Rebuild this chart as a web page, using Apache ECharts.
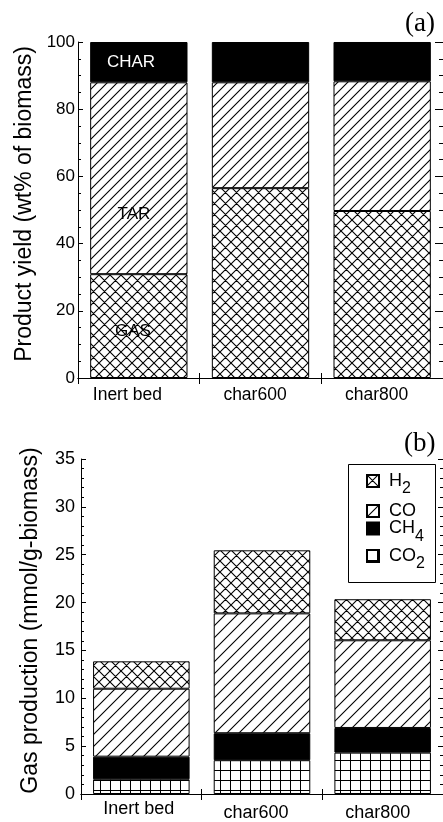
<!DOCTYPE html>
<html><head><meta charset="utf-8">
<script src="https://cdn.jsdelivr.net/npm/echarts@6/dist/echarts.min.js"></script>
<style>html,body{margin:0;padding:0;background:#fff}#c{width:443px;height:822px}</style>
</head><body><div id="c"></div>
<script>
// ---- data ----
const categories = ['Inert bed', 'char600', 'char800'];
const gasYield = [30.9, 56.5, 49.7];
const tarYield = [57.1, 31.5, 38.6];
const charYield = [12.0, 12.0, 11.7];
const co2Prod = [1.54, 3.53, 4.32];
const ch4Prod = [2.36, 2.82, 2.58];
const coProd = [7.10, 12.52, 9.16];
const h2Prod = [2.86, 6.59, 4.29];
const yieldScale = {min: 0, max: 100, interval: 20};
const gasScale = {min: 0, max: 35, interval: 5};

// ---- patterns ----
function pat(kind, P) {
  const c = document.createElement('canvas'); c.width = P; c.height = P;
  const g = c.getContext('2d'); g.fillStyle = '#fff'; g.fillRect(0, 0, P, P);
  g.strokeStyle = '#000'; g.lineWidth = 1.1; g.beginPath();
  if (kind === 'cross' || kind === 'diag') {
    g.moveTo(-1, P + 1); g.lineTo(P + 1, -1);
    g.moveTo(-2, 2); g.lineTo(2, -2);
    g.moveTo(P - 2, P + 2); g.lineTo(P + 2, P - 2);
  }
  if (kind === 'cross') {
    g.moveTo(-1, -1); g.lineTo(P + 1, P + 1);
    g.moveTo(P - 2, -2); g.lineTo(P + 2, 2);
    g.moveTo(-2, P - 2); g.lineTo(2, P + 2);
  }
  if (kind === 'grid') {
    g.lineWidth = 1;
    g.moveTo(0.5, 0); g.lineTo(0.5, P); g.moveTo(0, 0.5); g.lineTo(P, 0.5);
  }
  g.stroke();
  return {image: c, repeat: 'repeat'};
}
const SANS = 'Liberation Sans';
const black = '#000';
const border = {borderColor: black, borderWidth: 1};

function inLabel(text, pos, color) {
  return {show: true, formatter: text, position: pos, align: 'center', verticalAlign: 'middle',
    color: color, fontSize: 17, fontFamily: SANS};
}

function yAxes(grid, scale, name, nameGap, labelMargin, lblSize, minorSplit, rightMajor, rightMinor) {
  return [
    {type: 'value', gridIndex: grid, position: 'left', min: scale.min, max: scale.max, interval: scale.interval,
     axisLine: {show: true, lineStyle: {color: black, width: 1}},
     axisTick: {show: true, inside: true, length: 5, lineStyle: {color: black}},
     minorTick: {show: true, splitNumber: minorSplit, length: 3, lineStyle: {color: black}},
     splitLine: {show: false},
     axisLabel: {show: true, margin: labelMargin, color: black, fontSize: lblSize, fontFamily: SANS},
     name: name, nameLocation: 'middle', nameGap: nameGap, nameRotate: 90,
     nameTextStyle: {color: black, fontSize: 23, fontFamily: SANS, padding: [0, 0, 0, 12]}},
    {type: 'value', gridIndex: grid, position: 'right', min: scale.min, max: scale.max, interval: scale.interval,
     axisLine: {show: true, lineStyle: {color: black, width: 1}},
     axisTick: {show: true, inside: true, length: rightMajor, lineStyle: {color: black}},
     minorTick: {show: true, splitNumber: minorSplit, length: rightMinor, lineStyle: {color: black}},
     splitLine: {show: false}, axisLabel: {show: false}}
  ];
}

function xAxes(grid, size, margin, rich, pick) {
  return [
    {type: 'category', gridIndex: grid, position: 'bottom', data: categories,
     axisLine: {show: true, lineStyle: {color: black, width: 1}},
     axisTick: {show: true, inside: true, length: 5, lineStyle: {color: black}},
     splitLine: {show: false},
     axisLabel: {show: true, interval: 0, margin: margin, color: black, fontSize: size, fontFamily: SANS,
       formatter: (v, i) => '{' + pick[i] + '|' + v + '}', rich: rich}},
    {type: 'category', gridIndex: grid, position: 'top', data: categories,
     axisLine: {show: true, lineStyle: {color: black, width: 1}},
     axisTick: {show: true, inside: true, length: 6, lineStyle: {color: black}},
     splitLine: {show: false}, axisLabel: {show: false}}
  ];
}

const topRich = {
  a: {fontSize: 17.5, fontFamily: SANS, color: black, padding: [0, 23, 0, 0]},
  b: {fontSize: 17.5, fontFamily: SANS, color: black, padding: [0, 11, 0, 0]}
};
const botRich = {
  a: {fontSize: 18, fontFamily: SANS, color: black, padding: [0, 5, 0, 0]},
  b: {fontSize: 18, fontFamily: SANS, color: black, padding: [4, 12, 0, 0]},
  c: {fontSize: 18, fontFamily: SANS, color: black, padding: [4, 10, 0, 0]}
};

const legendRich = {
  n: {fontSize: 18, lineHeight: 18, fontFamily: SANS, color: black, padding: [0, 0, 0, 5]},
  s: {fontSize: 16, lineHeight: 16, fontFamily: SANS, color: black, padding: [16, 0, 0, 0]}
};
const legendText = {H2: '{n|H}{s|2}', CO: '{n|CO}', CH4: '{n|CH}{s|4}', CO2: '{n|CO}{s|2}'};
function legendFor(name, top) {
  return {data: [name], orient: 'vertical', left: 366, top: top, padding: 0,
    itemWidth: 12, itemHeight: 12, icon: 'rect', selectedMode: false,
    formatter: n => legendText[n], textStyle: {rich: legendRich}};
}

const option = {
  animation: false,
  backgroundColor: '#fff',
  title: [
    {text: '(a)', left: 405, top: 10, padding: 0,
     textStyle: {fontFamily: 'Liberation Serif', fontSize: 27, fontWeight: 'normal', color: black}},
    {text: '(b)', left: 404, top: 430, padding: 0,
     textStyle: {fontFamily: 'Liberation Serif', fontSize: 27, fontWeight: 'normal', color: black}}
  ],
  grid: [
    {left: 78, top: 42, width: 366, height: 336, containLabel: false},
    {left: 81, top: 459, width: 367, height: 340, containLabel: false}
  ],
  xAxis: [
    ...xAxes(0, 17.5, 8, topRich, ['a', 'b', 'b']),
    ...xAxes(1, 18, 6, botRich, ['a', 'b', 'c'])
  ],
  yAxis: [
    ...yAxes(0, yieldScale, 'Product yield (wt% of biomass)', 42, 3, 17, 4, 8, 4),
    ...yAxes(1, gasScale, 'Gas production (mmol/g-biomass)', 39, 6, 18, 5, 5, 3)
  ],
  legend: [
    legendFor('H2', 465),
    legendFor('CO', 502),
    legendFor('CH4', 512.5),
    legendFor('CO2', 540)
  ],
  graphic: [
    {type: 'rect', shape: {x: 348.5, y: 464.5, width: 87, height: 118},
     style: {fill: 'none', stroke: black, lineWidth: 1}, z: 10, silent: true}
  ],
  series: [
    {name: 'GAS', type: 'bar', xAxisIndex: 0, yAxisIndex: 0, stack: 'yield', barWidth: '80%',
     itemStyle: {color: pat('cross', 11), ...border},
     data: gasYield.map((v, i) => i === 0 ? {value: v, label: inLabel('GAS', ['44%', '55%'], black)} : v)},
    {name: 'TAR', type: 'bar', xAxisIndex: 0, yAxisIndex: 0, stack: 'yield', barWidth: '80%',
     itemStyle: {color: pat('diag', 10), ...border},
     data: tarYield.map((v, i) => i === 0 ? {value: v, label: inLabel('TAR', ['45%', '69%'], black)} : v)},
    {name: 'CHAR', type: 'bar', xAxisIndex: 0, yAxisIndex: 0, stack: 'yield', barWidth: '80%',
     itemStyle: {color: black, ...border},
     data: charYield.map((v, i) => i === 0 ? {value: v, label: inLabel('CHAR', ['42%', '50%'], '#fff')} : v)},

    {name: 'CO2', type: 'bar', xAxisIndex: 2, yAxisIndex: 2, stack: 'gas', barWidth: '80%',
     itemStyle: {color: pat('grid', 10), ...border}, data: co2Prod},
    {name: 'CH4', type: 'bar', xAxisIndex: 2, yAxisIndex: 2, stack: 'gas', barWidth: '80%',
     itemStyle: {color: black, ...border}, data: ch4Prod},
    {name: 'CO', type: 'bar', xAxisIndex: 2, yAxisIndex: 2, stack: 'gas', barWidth: '80%',
     itemStyle: {color: pat('diag', 12), ...border}, data: coProd},
    {name: 'H2', type: 'bar', xAxisIndex: 2, yAxisIndex: 2, stack: 'gas', barWidth: '80%',
     itemStyle: {color: pat('cross', 11), ...border}, data: h2Prod}
  ]
};
const chart = echarts.init(document.getElementById('c'), null, {renderer: 'canvas'});
chart.setOption(option);
</script>
</body></html>
